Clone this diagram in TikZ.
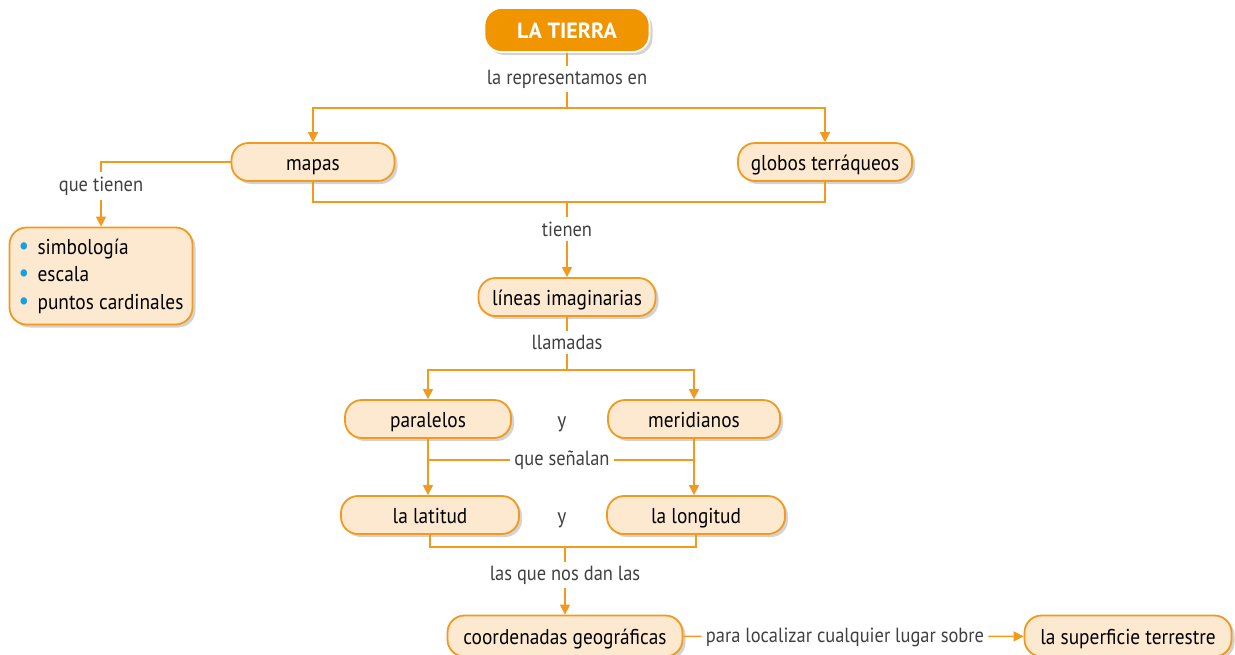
\documentclass[tikz,border=0pt]{standalone}
\usepackage{fontspec}
\setmainfont{PT Sans}
\newfontfamily\estrecha[FakeStretch=0.9]{PT Sans}
\usetikzlibrary{arrows.meta,shadows,positioning}
\definecolor{tierra}{RGB}{240,148,0}
\definecolor{linea}{RGB}{242,154,30}
\definecolor{concepto}{RGB}{253,232,208}
\definecolor{vineta}{RGB}{20,160,225}
\definecolor{enlace}{RGB}{64,64,64}
\newcommand{\punto}{\makebox[19pt][l]{\textcolor{vineta}{\raisebox{0pt}{\fontsize{26}{26}\selectfont\textbullet}}}}

\begin{document}
\begin{tikzpicture}[
    x=1pt, y=-1pt,
    concept/.style={draw=linea, line width=1.8pt, fill=concepto, rounded corners=17pt, minimum height=38pt, text height=16pt, text depth=0pt, align=center, font=\estrecha\fontsize{21.5}{26}\selectfont, drop shadow={shadow xshift=3pt, shadow yshift=-3pt, opacity=0.35}},
    root/.style={concept, draw=white, fill=tierra, text=white, font=\fontsize{22}{26}\selectfont\bfseries},
    link/.style={font=\estrecha\fontsize{20.5}{24}\selectfont, text=enlace, inner sep=4pt},
    conn/.style={draw=linea, line width=1.5pt},
    arrow/.style={conn, -{Triangle[length=10pt,width=10pt]}}
]
\useasboundingbox (0,0) rectangle (1235,654);
\clip (0,0) rectangle (1235,654);

% Root
\node[root, minimum width=165pt, minimum height=44pt] (tierra) at (567,30) {LA TIERRA};
\node[link] (repr) at (567,79) {la representamos en};
\coordinate (j1) at (567,108);

% Maps and globes
\node[concept, minimum width=163pt] (mapas) at (313,162) {mapas};
\node[concept, minimum width=174pt] (globos) at (825,162) {globos terráqueos};

\draw[conn] (tierra) -- (repr);
\draw[conn] (repr) -- (j1);
\draw[arrow] (j1) -| (mapas.north);
\draw[arrow] (j1) -| (globos.north);

% Elements of the maps
\node[link] (qtienen) at (101,186) {que tienen};
\node[concept, align=left, text height=, text depth=, minimum width=183pt, minimum height=97pt, font=\estrecha\fontsize{21.5}{27.5}\selectfont] (elementos) at (101,276)
    {\punto simbología\\\punto escala\\\punto puntos cardinales};

\draw[conn] (mapas.west) -| (qtienen.north);
\draw[arrow] (qtienen) -- (elementos);

% Imaginary lines
\coordinate (j2) at (567,202);
\node[link] (tienen) at (567,229) {tienen};
\node[concept, minimum width=177pt] (lineas) at (567,297) {líneas imaginarias};

\draw[conn] (mapas.south) |- (j2) -| (globos.south);
\draw[conn] (j2) -- (tienen);
\draw[arrow] (tienen) -- (lineas);

% Parallels and meridians
\node[link] (llamadas) at (567,342) {llamadas};
\coordinate (j3) at (567,370);
\node[concept, minimum width=166pt] (paralelos) at (428,419) {paralelos};
\node[link, font=\estrecha\fontsize{21.5}{26}\selectfont, text height=16pt, text depth=0pt] (y1) at (562,419) {y};
\node[concept, minimum width=172pt] (meridianos) at (694,419) {meridianos};

\draw[conn] (lineas) -- (llamadas);
\draw[conn] (llamadas) -- (j3);
\draw[arrow] (j3) -| (paralelos.north);
\draw[arrow] (j3) -| (meridianos.north);

% Latitude and longitude
\node[link] (senalan) at (562,460) {que señalan};
\node[concept, minimum width=178pt] (latitud) at (430,515) {la latitud};
\node[link, font=\estrecha\fontsize{21.5}{26}\selectfont, text height=16pt, text depth=0pt] (y2) at (562,515) {y};
\node[concept, minimum width=178pt] (longitud) at (696,515) {la longitud};

\draw[arrow] (paralelos.south) -- (paralelos.south |- latitud.north);
\draw[arrow] (meridianos.south) -- (meridianos.south |- longitud.north);
\draw[conn] (paralelos.south |- senalan) -- (senalan);
\draw[conn] (senalan) -- (meridianos.south |- senalan);

% Geographic coordinates
\coordinate (j4) at (565,547);
\node[link] (dan) at (565,575) {las que nos dan las};
\node[concept, minimum width=235pt, minimum height=41pt] (coordenadas) at (565,636) {coordenadas geográficas};
\node[link] (localizar) at (845,637) {para localizar cualquier lugar sobre};
\node[concept, minimum width=207pt, minimum height=41pt] (superficie) at (1128,636) {la superficie terrestre};

\draw[conn] (latitud.south) |- (j4) -| (longitud.south);
\draw[conn] (j4) -- (dan);
\draw[arrow] (dan) -- (coordenadas);
\draw[conn] (coordenadas) -- (localizar);
\draw[arrow] (localizar) -- (superficie);

\end{tikzpicture}
\end{document}
